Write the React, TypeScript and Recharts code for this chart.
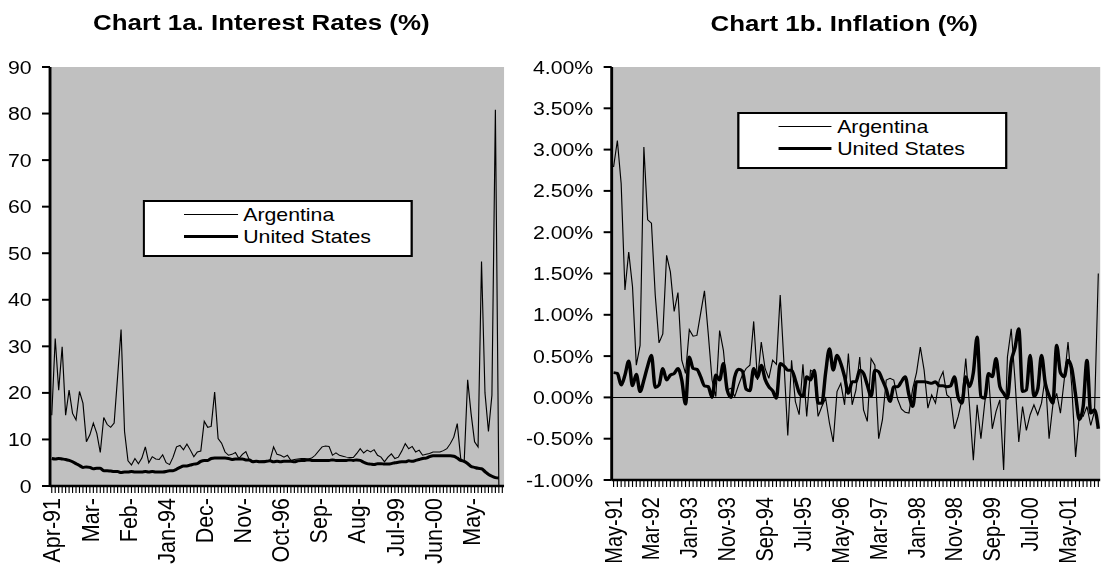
import React from 'react';
import { LineChart, Line, XAxis, YAxis, CartesianGrid, Legend, ReferenceLine } from 'recharts';

// the reference is stretched horizontally, so everything is drawn narrower and scaled back
const S = 1.15;
const FONT = '"Liberation Sans", Arial, Helvetica, sans-serif';
const PLOT_BG = '#c0c0c0';
const BORDER = '#808080';

const MONTHS = ['Jan', 'Feb', 'Mar', 'Apr', 'May', 'Jun', 'Jul', 'Aug', 'Sep', 'Oct', 'Nov', 'Dec'];
const monthSpan = (year: number, month: number, count: number) => {
  const out: string[] = [];
  for (let i = 0; i < count; i++) {
    const m = (month + i) % 12;
    const y = year + Math.floor((month + i) / 12);
    out.push(`${MONTHS[m]}-${String(y % 100).padStart(2, '0')}`);
  }
  return out;
};

// Chart 1a: monthly, Apr-91 .. Feb-02 (last month empty)
const rateMonths = monthSpan(1991, 3, 131);
const argRate: (number | null)[] = [
  15.2, 31.7, 20.6, 29.9, 15.2, 20.6, 15.6, 14.2, 20.3, 17.8, 9.5, 11.0,
  13.5, 11.3, 7.2, 14.7, 13.2, 12.6, 13.5, 23.5, 33.6, 11.7, 5.4, 4.5,
  5.9, 4.8, 6.0, 8.4, 5.0, 6.3, 5.8, 5.7, 6.7, 5.0, 4.6, 6.2,
  8.4, 8.7, 7.8, 9.0, 7.7, 6.3, 7.3, 7.5, 13.9, 12.6, 12.8, 20.2,
  10.2, 9.2, 7.3, 6.6, 6.8, 7.2, 5.9, 6.8, 7.4, 5.6, 5.4, 5.3,
  5.3, 5.4, 5.4, 5.6, 8.4, 6.8, 6.6, 6.2, 6.6, 5.5, 5.7, 5.8,
  5.9, 5.9, 5.8, 6.0, 6.6, 7.5, 8.4, 8.6, 8.5, 6.6, 7.1, 6.6,
  6.4, 6.2, 6.1, 6.1, 7.0, 8.0, 7.1, 7.7, 7.3, 7.8, 6.6, 6.2,
  5.2, 6.2, 6.9, 5.9, 6.2, 7.5, 9.1, 8.0, 8.5, 7.3, 7.7, 6.6,
  6.8, 7.0, 7.3, 7.3, 7.3, 7.6, 8.0, 9.1, 10.5, 13.4, 5.9, 5.2,
  22.8, 15.5, 9.5, 8.4, 48.2, 20.0, 11.7, 19.5, 80.8, 0, null,
];
const usRate: (number | null)[] = [
  5.9, 5.8, 5.9, 5.8, 5.7, 5.5, 5.2, 4.8, 4.4, 4.0, 4.1, 4.0,
  3.7, 3.8, 3.8, 3.3, 3.3, 3.2, 3.1, 3.1, 2.9, 3.0, 3.0, 3.1,
  3.0, 3.0, 3.0, 3.1, 3.0, 3.1, 3.0, 3.0, 3.0, 3.1, 3.3, 3.3,
  3.6, 4.0, 4.3, 4.3, 4.5, 4.7, 4.8, 5.3, 5.5, 5.5, 5.9, 6.0,
  6.0, 6.0, 6.0, 5.9, 5.7, 5.8, 5.8, 5.8, 5.6, 5.6, 5.2, 5.3,
  5.2, 5.2, 5.3, 5.4, 5.2, 5.3, 5.2, 5.3, 5.3, 5.3, 5.2, 5.4,
  5.5, 5.5, 5.6, 5.5, 5.5, 5.5, 5.5, 5.5, 5.5, 5.6, 5.5, 5.5,
  5.5, 5.5, 5.6, 5.5, 5.6, 5.5, 5.1, 4.8, 4.7, 4.6, 4.8, 4.8,
  4.7, 4.7, 4.8, 5.0, 5.1, 5.2, 5.2, 5.4, 5.3, 5.5, 5.7, 5.9,
  6.0, 6.3, 6.5, 6.5, 6.5, 6.5, 6.5, 6.5, 6.4, 6.0, 5.5, 5.3,
  4.8, 4.2, 4.0, 3.8, 3.7, 3.1, 2.5, 2.1, 1.8, 1.7, null,
];
const rateTicks = [0, 10, 20, 30, 40, 50, 60, 70, 80, 90];
const rateTickLabels = ['Apr-91', 'Mar-', 'Feb-', 'Jan-94', 'Dec-', 'Nov-', 'Oct-96', 'Sep-', 'Aug-', 'Jul-99', 'Jun-00', 'May-'];

// Chart 1b: monthly, May-91 .. Jan-02, in percent
const inflMonths = monthSpan(1991, 4, 129);
const argInfl = [
  2.79, 3.11, 2.59, 1.30, 1.76, 1.34, 0.39, 0.63, 3.03, 2.15, 2.11, 1.24,
  0.66, 0.77, 1.72, 1.52, 1.04, 1.27, 0.45, 0.29, 0.82, 0.74, 0.75, 1.02,
  1.29, 0.77, 0.21, 0.01, 0.81, 0.57, 0.09, 0.11, 0.01, 0.15, 0.27, 0.35,
  0.39, 0.92, 0.21, 0.67, 0.35, 0.23, 0.45, 0.40, 1.24, 0.41, -0.46, 0.45,
  -0.05, -0.21, 0.40, -0.23, 0.33, 0.30, -0.23, -0.11, -0.01, -0.31, -0.54, 0.07,
  0.17, -0.09, 0.53, -0.09, 0.09, 0.49, -0.15, -0.29, 0.47, 0.39, -0.50, -0.27,
  0.21, 0.23, 0.21, -0.02, -0.14, -0.18, -0.19, 0.11, 0.30, 0.61, 0.33, -0.13,
  0.03, -0.07, 0.21, 0.31, 0.03, -0.01, -0.38, -0.23, -0.03, 0.47, -0.11, -0.76,
  -0.09, -0.50, -0.07, 0.27, -0.38, -0.17, -0.03, -0.88, 0.49, 0.83, 0.21, -0.54,
  -0.11, -0.40, -0.21, -0.09, -0.21, -0.07, 0.25, -0.50, -0.09, 0.05, -0.19, 0.21,
  0.67, 0.13, -0.72, -0.21, -0.23, -0.11, -0.34, -0.17, 1.50,
];
const usInfl = [
  0.30, 0.29, 0.15, 0.27, 0.44, 0.14, 0.28, 0.07, 0.21, 0.38, 0.51, 0.12,
  0.15, 0.35, 0.21, 0.27, 0.29, 0.35, 0.21, -0.08, 0.49, 0.35, 0.34, 0.25,
  0.14, 0.13, 0.00, 0.27, 0.21, 0.41, 0.09, 0.00, 0.25, 0.34, 0.32, 0.10,
  0.08, 0.35, 0.24, 0.39, 0.22, 0.13, 0.08, -0.01, 0.41, 0.38, 0.33, 0.33,
  0.21, 0.06, 0.01, 0.25, 0.21, 0.33, -0.07, -0.07, 0.30, 0.59, 0.33, 0.51,
  0.41, 0.25, 0.05, 0.19, 0.19, 0.33, 0.29, 0.15, 0.01, 0.33, 0.31, 0.21,
  0.10, -0.05, 0.13, 0.13, 0.19, 0.25, 0.03, -0.11, 0.19, 0.19, 0.19, 0.18,
  0.17, 0.19, 0.14, 0.14, 0.13, 0.14, 0.25, 0.00, -0.07, 0.25, 0.13, 0.30,
  0.73, 0.01, -0.01, 0.29, 0.25, 0.47, 0.13, 0.05, -0.01, 0.43, 0.60, 0.83,
  0.07, 0.09, 0.51, 0.01, 0.10, 0.51, 0.17, 0.02, -0.07, 0.63, 0.30, 0.25,
  0.45, 0.35, 0.03, -0.27, -0.11, 0.45, -0.19, -0.15, -0.38,
];
const inflTicks = [-1, -0.5, 0, 0.5, 1, 1.5, 2, 2.5, 3, 3.5, 4];
const inflTickLabels = ['May-91', 'Mar-92', 'Jan-93', 'Nov-93', 'Sep-94', 'Jul-95', 'May-96', 'Mar-97', 'Jan-98', 'Nov-98', 'Sep-99', 'Jul-00', 'May-01'];

const rateData = rateMonths.map((month, i) => ({ month, arg: argRate[i], us: usRate[i] }));
const inflData = inflMonths.map((month, i) => ({ month, arg: argInfl[i], us: usInfl[i] }));

const lineWidths: Record<string, number> = { arg: 1, us: 3 };

const LegendBox = ({ payload = [] }: any) => (
  <div
    style={{
      width: 235, height: 57, boxSizing: 'border-box', border: '2.5px solid #000',
      background: '#fff', paddingTop: 1.6, fontFamily: FONT, fontSize: 18.5, color: '#000',
    }}
  >
    {payload.map((p: any) => (
      <div key={p.value} style={{ display: 'flex', alignItems: 'center', height: 21.7 }}>
        <div style={{ marginLeft: 34, width: 46.7, borderTop: `${lineWidths[p.dataKey]}px solid #000` }} />
        <span style={{ marginLeft: 4.6, lineHeight: '21px', whiteSpace: 'nowrap' }}>{p.value}</span>
      </div>
    ))}
  </div>
);

const makeDateTick = (labels: string[], every: number, gap: number, size: number) => (props: any) => {
  const { x, y, index } = props;
  if (index % every !== 0 || !labels[index / every]) return <g />;
  const ty = y + gap;
  return (
    <text
      x={x}
      y={ty}
      transform={`rotate(-90 ${x} ${ty})`}
      textAnchor="end"
      dy="0.35em"
      fontSize={size}
      fontFamily={FONT}
      fill="#000"
    >
      {labels[index / every]}
    </text>
  );
};

const tickStyle = { fontSize: 18.5, fill: '#000', fontFamily: FONT };

const titleStyle = (cx: number, cy: number): React.CSSProperties => ({
  position: 'absolute', left: cx - 250, width: 500, top: cy - 14, lineHeight: '28px',
  textAlign: 'center', fontWeight: 'bold', fontSize: 22.5, fontFamily: FONT, color: '#000',
});

const App: React.FC = () => {
  const rateSlot = 394.8 / 131;
  const inflSlot = 424.8 / 129;

  return (
    <div style={{ position: 'fixed', left: 0, top: 0, width: 1101, height: 566, overflow: 'hidden', background: '#fff' }}>
      <div style={{ position: 'absolute', left: 0, top: 0, width: 1101 / S, height: 566, transform: `scaleX(${S})`, transformOrigin: '0 0' }}>
        <div style={titleStyle(227.2, 23)}>Chart 1a. Interest Rates (%)</div>
        <div style={titleStyle(734.1, 24)}>Chart 1b. Inflation (%)</div>

        <div style={{ position: 'absolute', left: 0, top: 0 }}>
          <LineChart width={440} height={566} data={rateData} margin={{ top: 67, right: 1.7, bottom: 0, left: 0 }}>
            <CartesianGrid horizontal={false} vertical={false} fill={PLOT_BG} />
            <XAxis
              dataKey="month"
              height={80}
              interval={0}
              padding={{ left: rateSlot / 2, right: rateSlot / 2 }}
              tickSize={7}
              tickMargin={0}
              axisLine={{ stroke: '#000', strokeWidth: 2.5 }}
              tickLine={{ stroke: '#000', strokeWidth: 1 }}
              tick={makeDateTick(rateTickLabels, 11, 5, 21.5)}
            />
            <XAxis xAxisId="top" orientation="top" dataKey="month" height={0} tick={false} tickLine={false} axisLine={{ stroke: BORDER, strokeWidth: 2.5 }} />
            <YAxis
              domain={[0, 90]}
              ticks={rateTicks}
              interval={0}
              width={43.5}
              tickSize={7}
              tickMargin={9}
              axisLine={{ stroke: '#000', strokeWidth: 2.5 }}
              tickLine={{ stroke: '#000', strokeWidth: 2 }}
              tick={tickStyle}
            />
            <YAxis yAxisId="right" orientation="right" domain={[0, 90]} width={0} tick={false} tickLine={false} axisLine={{ stroke: BORDER, strokeWidth: 2.5 }} />
            <Legend
              layout="horizontal"
              verticalAlign="middle"
              align="center"
              content={(p: any) => <LegendBox {...p} />}
              wrapperStyle={{ left: 124.2, top: 200, width: 235, height: 57 }}
            />
            <Line name="Argentina" dataKey="arg" type="linear" stroke="#000" strokeWidth={1} dot={false} activeDot={false} isAnimationActive={false} />
            <Line name="United States" dataKey="us" type="monotone" stroke="#000" strokeWidth={3} dot={false} activeDot={false} isAnimationActive={false} />
          </LineChart>
        </div>

        <div style={{ position: 'absolute', left: 440, top: 0 }}>
          <LineChart width={530} height={566} data={inflData} margin={{ top: 67, right: 13.3, bottom: 0, left: 0 }}>
            <CartesianGrid horizontal={false} vertical={false} fill={PLOT_BG} />
            <XAxis
              dataKey="month"
              height={86}
              interval={0}
              padding={{ left: inflSlot / 2, right: inflSlot / 2 }}
              tickSize={7}
              tickMargin={0}
              axisLine={{ stroke: '#000', strokeWidth: 2.5 }}
              tickLine={{ stroke: '#000', strokeWidth: 1 }}
              tick={makeDateTick(inflTickLabels, 10, 10, 20)}
            />
            <XAxis xAxisId="top" orientation="top" dataKey="month" height={0} tick={false} tickLine={false} axisLine={{ stroke: BORDER, strokeWidth: 2.5 }} />
            <YAxis
              domain={[-1, 4]}
              ticks={inflTicks}
              interval={0}
              width={91.9}
              tickSize={7}
              tickMargin={9}
              axisLine={{ stroke: '#000', strokeWidth: 2.5 }}
              tickLine={{ stroke: '#000', strokeWidth: 2 }}
              tick={tickStyle}
              tickFormatter={(v: number) => `${v.toFixed(2)}%`}
            />
            <YAxis yAxisId="right" orientation="right" domain={[-1, 4]} width={0} tick={false} tickLine={false} axisLine={{ stroke: BORDER, strokeWidth: 2.5 }} />
            <ReferenceLine y={0} stroke="#000" strokeWidth={1} />
            <Legend
              layout="horizontal"
              verticalAlign="middle"
              align="center"
              content={(p: any) => <LegendBox {...p} />}
              wrapperStyle={{ left: 200.7, top: 112.3, width: 235, height: 57 }}
            />
            <Line name="Argentina" dataKey="arg" type="linear" stroke="#000" strokeWidth={1} dot={false} activeDot={false} isAnimationActive={false} />
            <Line name="United States" dataKey="us" type="monotone" stroke="#000" strokeWidth={3} dot={false} activeDot={false} isAnimationActive={false} />
          </LineChart>
        </div>
      </div>
    </div>
  );
};

export default App;
